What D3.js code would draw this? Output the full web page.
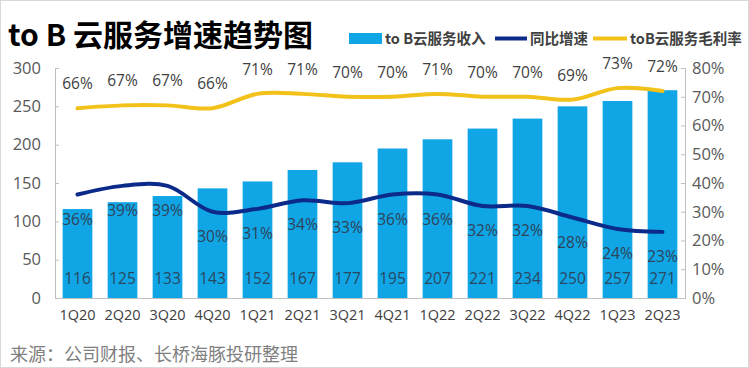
<!DOCTYPE html>
<html><head><meta charset="utf-8">
<script src="https://cdn.jsdelivr.net/npm/d3@7"></script>
<style>body{margin:0;background:#fff;}svg{display:block;font-family:"Microsoft YaHei","Noto Sans CJK SC","Noto Sans",sans-serif;}</style>
</head><body><svg id="c" width="749" height="368"></svg>
<script>
const categories = ["1Q20","2Q20","3Q20","4Q20","1Q21","2Q21","3Q21","4Q21","1Q22","2Q22","3Q22","4Q22","1Q23","2Q23"];
const revenue = [116,125,133,143,152,167,177,195,207,221,234,250,257,271];
const growth = [36,39,39,30,31,34,33,36,36,32,32,28,24,23];
const margin = [66,67,67,66,71,71,70,70,71,70,70,69,73,72];
const leftTicks = [0,50,100,150,200,250,300];
const rightTicks = [0,10,20,30,40,50,60,70,80];

const svg = d3.select("#c");
const W = 749, H = 368;
const m = {l:55, r:64, t:68, b:70};
const x0 = m.l, x1 = W - m.r, y0 = H - m.b, y1 = m.t;

svg.append("rect").attr("x",0.5).attr("y",0.5).attr("width",W-1).attr("height",H-1)
  .attr("fill","#fff").attr("stroke","#d9d9d9");

const x = d3.scaleBand().domain(categories).range([x0,x1]).paddingInner(0.34).paddingOuter(0.17);
const yL = d3.scaleLinear().domain([0,300]).range([y0,y1]);
const yR = d3.scaleLinear().domain([0,80]).range([y0,y1]);

const numFont = "'Open Sans','Noto Sans',sans-serif";
// axes
const axL = d3.axisLeft(yL).tickValues(leftTicks).tickSize(-4).tickPadding(14);
const gL = svg.append("g").attr("transform",`translate(${x0},0)`).call(axL);
const axR = d3.axisRight(yR).tickValues(rightTicks).tickSize(-4).tickPadding(7).tickFormat(d=>d+"%");
const gR = svg.append("g").attr("transform",`translate(${x1},0)`).call(axR);
[gL,gR].forEach(g=>{
  g.select(".domain").attr("stroke","#bfbfbf");
  g.selectAll(".tick line").attr("stroke","#bfbfbf");
  g.selectAll(".tick text").attr("fill","#595959").style("font-size","16.5px").style("font-family",numFont);
});
const axB = d3.axisBottom(x).tickSize(0).tickPadding(12);
const gB = svg.append("g").attr("transform",`translate(0,${y0})`).call(axB);
gB.select(".domain").attr("stroke","#bfbfbf");
gB.selectAll(".tick text").attr("fill","#404040").style("font-size","14.5px").style("font-family",numFont);

// bars
svg.append("g").selectAll("rect").data(revenue).join("rect")
  .attr("x",(d,i)=>x(categories[i])).attr("width",x.bandwidth())
  .attr("y",d=>yL(d)).attr("height",d=>yL(0)-yL(d)).attr("fill","#10a6e6");

// lines
const curve = d3.curveCatmullRom.alpha(0.5);
const lg = d3.line().x((d,i)=>x(categories[i])+x.bandwidth()/2).y(d=>yR(d)).curve(curve);
svg.append("path").datum(margin).attr("d",lg).attr("fill","none").attr("stroke","#f2c21b").attr("stroke-width",4).attr("stroke-linecap","round");
svg.append("path").datum(growth).attr("d",lg).attr("fill","none").attr("stroke","#0b2a8a").attr("stroke-width",4).attr("stroke-linecap","round");

// labels
svg.append("g").selectAll("text").data(revenue).join("text")
  .attr("x",(d,i)=>x(categories[i])+x.bandwidth()/2).attr("y",yL(0)-14)
  .attr("text-anchor","middle").attr("fill","#2a4660").style("font-size","15.5px").style("font-family",numFont)
  .text(d=>d);
svg.append("g").selectAll("text").data(growth).join("text")
  .attr("x",(d,i)=>x(categories[i])+x.bandwidth()/2).attr("y",d=>yR(d)+30)
  .attr("text-anchor","middle").attr("fill","#2f4258").style("font-size","15.5px").style("font-family",numFont)
  .text(d=>d+"%");
svg.append("g").selectAll("text").data(margin).join("text")
  .attr("x",(d,i)=>x(categories[i])+x.bandwidth()/2).attr("y",d=>yR(d)-19)
  .attr("text-anchor","middle").attr("fill","#404040").style("font-size","15.5px").style("font-family",numFont)
  .text(d=>d+"%");

// title
svg.append("text").attr("x",8).attr("y",46).attr("fill","#000").style("font-size","30px").style("font-weight","bold")
  .text("to B 云服务增速趋势图");

// legend
const lgd = svg.append("g").style("font-size","14.5px").style("font-weight","bold").attr("fill","#404040");
lgd.append("rect").attr("x",349).attr("y",33).attr("width",33).attr("height",11).attr("fill","#10a6e6");
lgd.append("text").attr("x",385).attr("y",44).text("to B云服务收入");
lgd.append("line").attr("x1",495).attr("x2",527).attr("y1",38.5).attr("y2",38.5).attr("stroke","#0b2a8a").attr("stroke-width",4);
lgd.append("text").attr("x",530).attr("y",44).text("同比增速");
lgd.append("line").attr("x1",593).attr("x2",627).attr("y1",38.5).attr("y2",38.5).attr("stroke","#f2c21b").attr("stroke-width",4);
lgd.append("text").attr("x",630).attr("y",44).text("toB云服务毛利率");

// source
svg.append("text").attr("x",10).attr("y",361).attr("fill","#7f7f7f").style("font-size","18px")
  .text("来源：公司财报、长桥海豚投研整理");
</script></body></html>
